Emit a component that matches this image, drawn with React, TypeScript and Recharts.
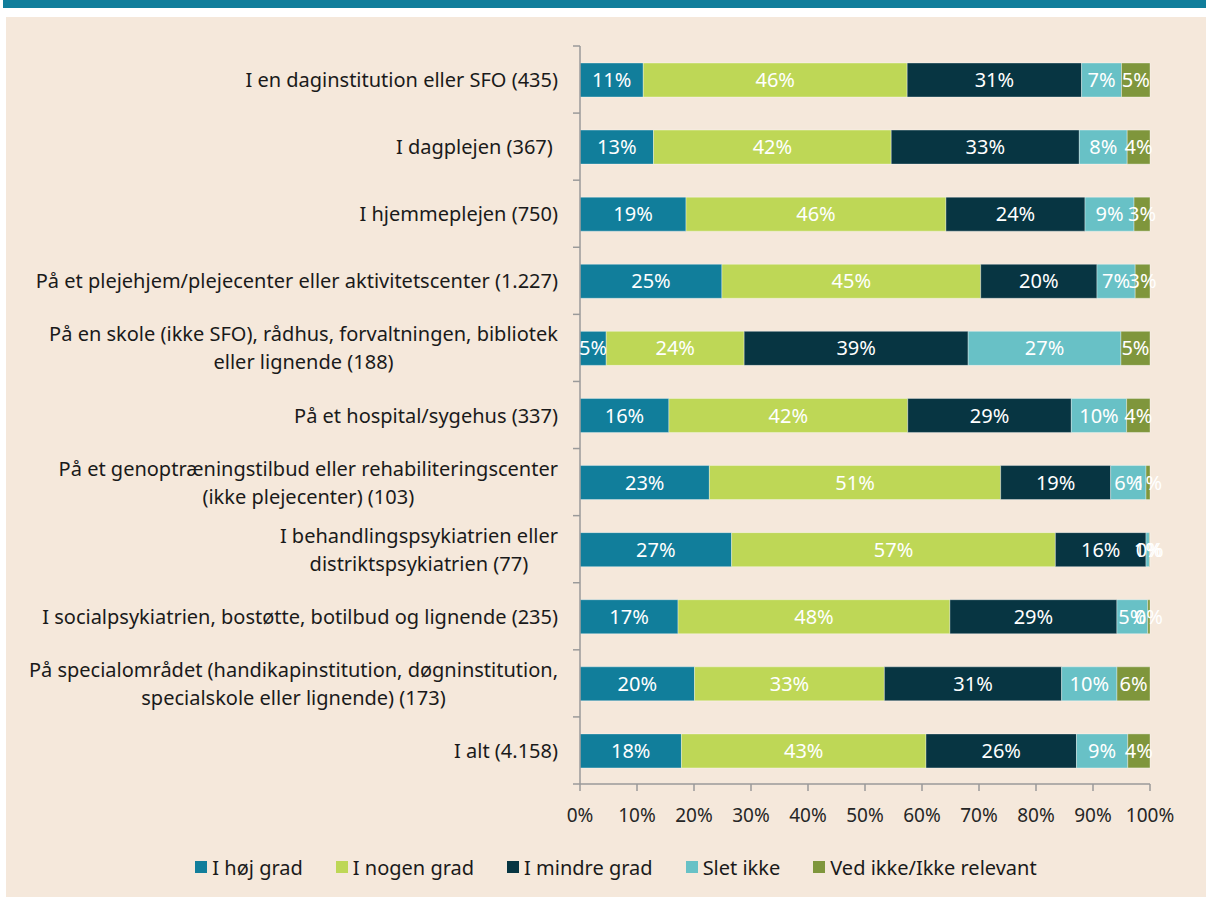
import React from 'react';
import { BarChart, Bar, XAxis, YAxis, Legend, LabelList } from 'recharts';

// categories (line breaks as in the source figure)
const categories = [
  'I en daginstitution eller SFO (435)',
  'I dagplejen (367)\u00a0',
  'I hjemmeplejen (750)',
  'På et plejehjem/plejecenter eller aktivitetscenter (1.227)',
  'På en skole (ikke SFO), rådhus, forvaltningen, bibliotek\neller lignende (188)',
  'På et hospital/sygehus (337)',
  'På et genoptræningstilbud eller rehabiliteringscenter\n(ikke plejecenter) (103)',
  'I behandlingspsykiatrien eller\ndistriktspsykiatrien (77)',
  'I socialpsykiatrien, bostøtte, botilbud og lignende (235)',
  'På specialområdet (handikapinstitution, døgninstitution,\nspecialskole eller lignende) (173)',
  'I alt (4.158)',
];

// shares in percent
const hojGrad = [11.1, 12.9, 18.6, 24.9, 4.6, 15.6, 22.7, 26.6, 17.2, 20.1, 17.8];
const nogenGrad = [46.3, 41.7, 45.6, 45.4, 24.2, 41.9, 51.1, 56.8, 47.7, 33.3, 42.9];
const mindreGrad = [30.6, 33.0, 24.4, 20.4, 39.3, 28.7, 19.3, 15.9, 29.3, 31.1, 26.4];
const sletIkke = [7.0, 8.4, 8.6, 6.7, 26.8, 9.7, 6.2, 0.6, 5.4, 9.7, 9.0];
const vedIkke = [5.0, 4.0, 2.8, 2.6, 5.1, 4.1, 0.7, 0.1, 0.4, 5.8, 3.9];

const xTicks = [0, 0.1, 0.2, 0.3, 0.4, 0.5, 0.6, 0.7, 0.8, 0.9, 1];

const series = [
  { key: 'hoj', name: 'I høj grad', color: '#117e9b' },
  { key: 'nogen', name: 'I nogen grad', color: '#bed756' },
  { key: 'mindre', name: 'I mindre grad', color: '#073542' },
  { key: 'slet', name: 'Slet ikke', color: '#68c1c6' },
  { key: 'ved', name: 'Ved ikke/Ikke relevant', color: '#7f963c' },
];

const data = categories.map((name, i) => ({
  name,
  hoj: hojGrad[i],
  nogen: nogenGrad[i],
  mindre: mindreGrad[i],
  slet: sletIkke[i],
  ved: vedIkke[i],
}));

const FONT = '"Noto Sans", sans-serif';
const FONT_SIZE = 20;
const AXIS_COLOR = '#9a9a9a';

let ctx: CanvasRenderingContext2D | null = null;
const measure = (s: string) => {
  if (!ctx) ctx = document.createElement('canvas').getContext('2d');
  if (!ctx) return s.length * 10;
  ctx.font = `${FONT_SIZE}px ${FONT}`;
  return ctx.measureText(s).width;
};

const CategoryTick = (props: any) => {
  const { x, y, payload, index, visibleTicksCount, height } = props;
  const half = payload.offset ?? height / visibleTicksCount / 2;
  const lines = String(payload.value).split('\n');
  const right = x - 22;
  const maxW = Math.max(...lines.map(measure));
  const gap = 28;
  const y0 = y - ((lines.length - 1) * gap) / 2;
  return (
    <g>
      <line x1={x} x2={x - 7} y1={y - half} y2={y - half} stroke={AXIS_COLOR} strokeWidth={1.5} />
      {index === visibleTicksCount - 1 && (
        <line x1={x} x2={x - 7} y1={y + half} y2={y + half} stroke={AXIS_COLOR} strokeWidth={1.5} />
      )}
      {lines.map((l, k) => (
        <text
          key={k}
          x={lines.length > 1 ? right - maxW / 2 : right}
          y={y0 + k * gap}
          textAnchor={lines.length > 1 ? 'middle' : 'end'}
          dominantBaseline="central"
          fill="#1a1a1a"
          fontSize={FONT_SIZE}
        >
          {l}
        </text>
      ))}
    </g>
  );
};

const renderLegend = (props: any) => {
  const items = props.payload || [];
  const colorOf = (name: string) => {
    const hit = items.find((it: any) => it.value === name);
    return hit ? hit.color : undefined;
  };
  return (
    <div
      style={{
        display: 'flex',
        justifyContent: 'center',
        alignItems: 'center',
        gap: 33,
        height: 34,
        paddingTop: 6,
        paddingLeft: 76,
        fontSize: FONT_SIZE,
        color: '#1a1a1a',
      }}
    >
      {series.map((s) => (
        <span key={s.key} style={{ display: 'flex', alignItems: 'center' }}>
          <span
            style={{
              width: 12,
              height: 12,
              background: colorOf(s.name) || s.color,
              marginRight: 5,
              display: 'inline-block',
            }}
          />
          <span>{s.name}</span>
        </span>
      ))}
    </div>
  );
};

const pct = (v: any) => `${Math.round(Number(v))}%`;

export default function App() {
  return (
    <div
      style={{
        position: 'absolute',
        left: 0,
        top: 0,
        width: 1206,
        height: 899,
        background: '#ffffff',
        fontFamily: FONT,
      }}
    >
      <div style={{ position: 'absolute', left: 3, top: 0, width: 1203, height: 8, background: '#117e9b' }} />
      <div style={{ position: 'absolute', left: 6, top: 17, width: 1200, height: 880, background: '#f5e8db' }}>
        <BarChart
          width={1200}
          height={880}
          data={data}
          layout="vertical"
          stackOffset="expand"
          margin={{ top: 29, right: 56, left: 0, bottom: 13 }}
        >
          <XAxis
            type="number"
            domain={[0, 1]}
            ticks={xTicks}
            tickFormatter={(v: number) => `${Math.round(v * 100)}%`}
            axisLine={{ stroke: AXIS_COLOR, strokeWidth: 1.5 }}
            tickLine={{ stroke: AXIS_COLOR, strokeWidth: 1.5 }}
            tickSize={7}
            tickMargin={18}
            tick={{ fill: '#262626', fontSize: 19 }}
            height={60}
            interval={0}
          />
          <YAxis
            type="category"
            dataKey="name"
            width={574}
            interval={0}
            axisLine={{ stroke: AXIS_COLOR, strokeWidth: 1.5 }}
            tickLine={false}
            tickSize={0}
            tickMargin={0}
            tick={<CategoryTick />}
          />
          <Legend verticalAlign="bottom" content={renderLegend} />
          {series.map((s) => (
            <Bar
              key={s.key}
              dataKey={s.key}
              name={s.name}
              stackId="a"
              fill={s.color}
              barSize={34}
              stroke="#ffffff"
              strokeOpacity={0.35}
              strokeWidth={1}
              isAnimationActive={false}
            >
              <LabelList dataKey={s.key} position="center" fill="#ffffff" fontSize={FONT_SIZE} formatter={pct} />
            </Bar>
          ))}
        </BarChart>
      </div>
    </div>
  );
}
